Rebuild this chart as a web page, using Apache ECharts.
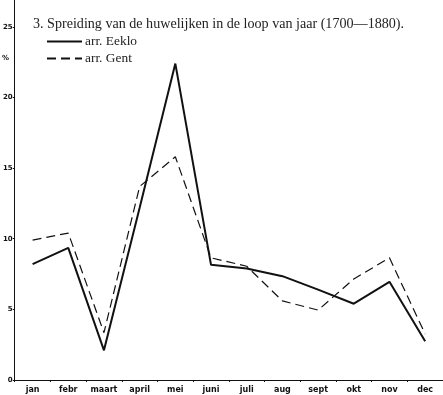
<!DOCTYPE html>
<html>
<head>
<meta charset="utf-8">
<script src="https://cdn.jsdelivr.net/npm/echarts@6/dist/echarts.min.js"></script>
<style>html,body{margin:0;padding:0;background:#fff}#c{width:443px;height:395px}</style>
</head>
<body>
<div id="c"></div>
<script>
const months = ['jan','febr','maart','april','mei','juni','juli','aug','sept','okt','nov','dec'];
const eeklo = [8.2, 9.35, 2.1, 12.2, 22.4, 8.15, 7.9, 7.35, 6.4, 5.4, 6.95, 2.75];
const gent  = [9.9, 10.4, 3.35, 13.7, 15.8, 8.65, 8.05, 5.6, 4.95, 7.15, 8.65, 3.25];
const yTicks = [0, 5, 10, 15, 20, 25];
const titleText = '3. Spreiding van de huwelijken in de loop van jaar (1700\u20141880).';

const chart = echarts.init(document.getElementById('c'), null, {renderer: 'canvas'});
chart.setOption({
  backgroundColor: '#fff',
  animation: false,
  title: {
    text: titleText, left: 28, top: 12,
    textStyle: {fontFamily: 'Liberation Serif', fontSize: 14.1, fontWeight: 'normal', color: '#222'}
  },
  legend: {
    orient: 'vertical', left: 41, top: 30, itemGap: 4, itemWidth: 35, itemHeight: 12,
    itemStyle: {opacity: 0},
    textStyle: {fontFamily: 'Liberation Serif', fontSize: 13.4, color: '#222', padding: [0, 0, 0, -2]},
    data: ['arr. Eeklo', 'arr. Gent']
  },
  grid: {left: 11, right: 0, top: 0, bottom: 15, containLabel: false},
  xAxis: {
    type: 'category', data: months, boundaryGap: true,
    axisLine: {lineStyle: {color: '#111', width: 1}},
    axisTick: {show: true, length: 2, inside: false, lineStyle: {color: '#111'}},
    axisLabel: {fontFamily: 'DejaVu Sans', fontSize: 8, fontWeight: 'bold', color: '#111', margin: 6}
  },
  yAxis: {
    type: 'value', min: 0, max: 26.9,
    splitLine: {show: false},
    axisLine: {show: true, lineStyle: {color: '#111', width: 1}},
    axisTick: {show: true, length: 2, customValues: yTicks, lineStyle: {color: '#111'}},
    axisLabel: {customValues: yTicks, fontFamily: 'DejaVu Sans', fontSize: 7, fontWeight: 'bold', color: '#111', margin: 2}
  },
  graphic: [{type: 'text', left: 2, top: 55, style: {text: '%', fontSize: 7, fontWeight: 'bold', fill: '#111', fontFamily: 'DejaVu Sans'}}],
  series: [
    {name: 'arr. Eeklo', type: 'line', data: eeklo, symbol: 'none',
     lineStyle: {color: '#111', width: 2, type: 'solid'}, itemStyle: {color: '#111'}},
    {name: 'arr. Gent', type: 'line', data: gent, symbol: 'none',
     lineStyle: {color: '#111', width: 1.2, type: [9, 5]}, itemStyle: {color: '#111'}}
  ]
});
</script>
</body>
</html>
